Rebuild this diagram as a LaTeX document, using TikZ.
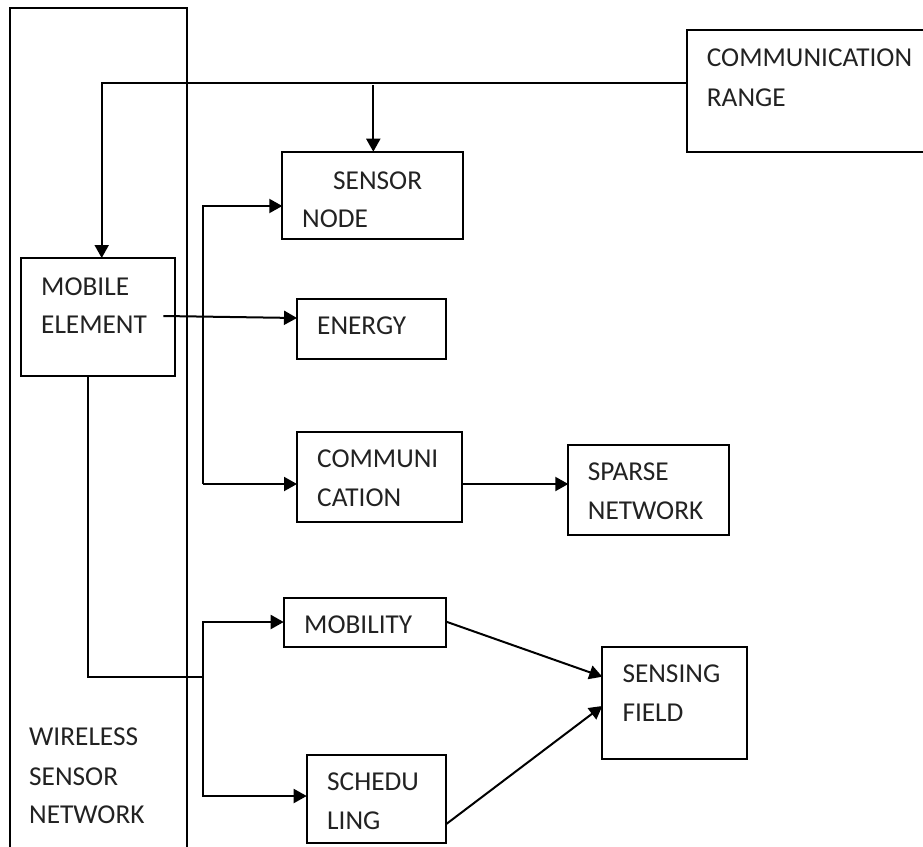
\documentclass[tikz,border=0pt]{standalone}
\usepackage{fontspec}
\setmainfont{Carlito}
\usetikzlibrary{arrows.meta}
\definecolor{txt}{HTML}{222222}
\tikzset{
  box/.style={draw=black, line width=2pt, anchor=north west, inner sep=0pt, outer sep=0pt},
  lbl/.style={anchor=base west, inner sep=0pt, text=txt, font=\fontsize{27.3}{39}\selectfont},
  conn/.style={draw=black, line width=2pt},
  arr/.style={conn, -{Triangle[length=13pt,width=14pt]}}
}
\begin{document}
\begin{tikzpicture}[x=1pt,y=-1pt]
\useasboundingbox (0,0) rectangle (923,846);
\begin{scope}
\clip (0,0) rectangle (923,846);
% boxes
\node[box, minimum width=177pt, minimum height=900pt] (wsn) at (9.5,7.5) {};
\node[box, minimum width=260pt, minimum height=122pt] (cr) at (686.7,29.7) {};
\node[box, minimum width=154.7pt, minimum height=117.7pt] (me) at (20.7,258) {};
\node[box, minimum width=180.7pt, minimum height=87.3pt] (sn) at (282.3,151.7) {};
\node[box, minimum width=149.3pt, minimum height=60.3pt] (en) at (297,299) {};
\node[box, minimum width=165pt, minimum height=90.3pt] (cm) at (297,432) {};
\node[box, minimum width=160.4pt, minimum height=90.6pt] (sp) at (568.3,444.7) {};
\node[box, minimum width=162.6pt, minimum height=49pt] (mo) at (283.7,597.7) {};
\node[box, minimum width=139.6pt, minimum height=88.6pt] (sc) at (306.7,754.7) {};
\node[box, minimum width=145pt, minimum height=112.6pt] (sf) at (602.3,646.7) {};
\end{scope}
% texts
\node[lbl] (tcr1) at (706.7,66.7) {COMMUNICATION};
\node[lbl] (tcr2) at (706.7,106) {RANGE};
\node[lbl] (tme1) at (41,295) {MOBILE};
\node[lbl] (tme2) at (41,333) {ELEMENT};
\node[lbl] (tsn1) at (333,189) {SENSOR};
\node[lbl] (tsn2) at (302,227) {NODE};
\node[lbl] (ten) at (317,334) {ENERGY};
\node[lbl] (tcm1) at (317,467) {COMMUNI};
\node[lbl] (tcm2) at (317,506) {CATION};
\node[lbl] (tsp1) at (587.7,480.7) {SPARSE};
\node[lbl] (tsp2) at (587.7,519) {NETWORK};
\node[lbl] (tmo) at (304,633) {MOBILITY};
\node[lbl] (tsc1) at (327,790) {SCHEDU};
\node[lbl] (tsc2) at (327,829) {LING};
\node[lbl] (tsf1) at (622.3,682.3) {SENSING};
\node[lbl] (tsf2) at (622.3,721) {FIELD};
\node[lbl] (tw1) at (29,745) {WIRELESS};
\node[lbl] (tw2) at (29,785) {SENSOR};
\node[lbl] (tw3) at (29,823) {NETWORK};
% coordinates
\coordinate (j1) at (101.7,82.7);
\coordinate (j2) at (373.3,85);
\coordinate (b1t) at (203.3,206);
\coordinate (b1b) at (203.3,484);
\coordinate (e0) at (163.3,316);
\coordinate (e1) at (297,318);
\coordinate (c0) at (462,484);
\coordinate (c1) at (568.3,484);
\coordinate (m0) at (88.3,375.7);
\coordinate (b2j) at (203.3,676.7);
\coordinate (b2t) at (203.3,622);
\coordinate (b2b) at (203.3,796);
\coordinate (mo1) at (446.3,621.7);
\coordinate (sf1) at (602.3,676.7);
\coordinate (sc1) at (446.3,824);
\coordinate (sf2) at (602.3,706);
% connectors
\draw[arr] (cr.west |- j1) -- (j1) -- (j1 |- me.north);
\draw[arr] (j2) -- (j2 |- sn.north);
\draw[arr] (b1b) -- (b1t) -- (b1t -| sn.west);
\draw[arr] (b1b) -- (b1b -| cm.west);
\draw[arr] (e0) -- (e1);
\draw[arr] (c0) -- (c1);
\draw[conn] (m0) -- (m0 |- b2j) -- (b2j);
\draw[arr] (b2j) -- (b2t) -- (b2t -| mo.west);
\draw[arr] (b2j) -- (b2b) -- (b2b -| sc.west);
\draw[arr] (mo1) -- (sf1);
\draw[arr] (sc1) -- (sf2);
\end{tikzpicture}
\end{document}
